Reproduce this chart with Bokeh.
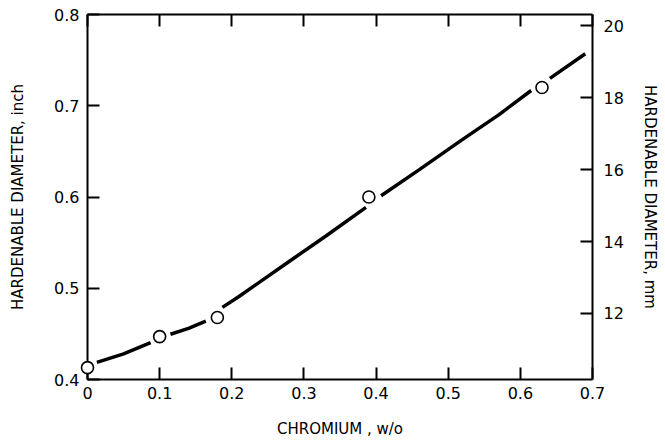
from bokeh.plotting import figure
from bokeh.models import LinearAxis, Range1d, FixedTicker
from bokeh.embed import file_html
from bokeh.resources import INLINE

nan = float("nan")

# measured points
chromium = [0.0, 0.10, 0.18, 0.39, 0.63]
diameter_in = [0.413, 0.447, 0.468, 0.600, 0.720]

# fitted curve (the drawn curve is broken at each circle)
curve_x = [0.013, 0.05, 0.0875, nan,
           0.115, 0.14, 0.164, nan,
           0.187, 0.21, 0.23, 0.277, 0.33, 0.386, nan,
           0.407, 0.46, 0.518, 0.57, 0.615, nan,
           0.641, 0.69]
curve_y = [0.4188, 0.428, 0.4404, nan,
           0.4496, 0.456, 0.464, nan,
           0.479, 0.491, 0.502, 0.528, 0.557, 0.5886, nan,
           0.6014, 0.630, 0.662, 0.690, 0.7167, nan,
           0.730, 0.757]

x_ticks = [0.0, 0.1, 0.2, 0.3, 0.4, 0.5, 0.6, 0.7]
x_labels = ["0", "0.1", "0.2", "0.3", "0.4", "0.5", "0.6", "0.7"]
y_ticks = [0.4, 0.5, 0.6, 0.7, 0.8]
y_labels = ["0.4", "0.5", "0.6", "0.7", "0.8"]
mm_ticks = [12, 14, 16, 18, 20]
mm_labels = ["12", "14", "16", "18", "20"]

FONT = "DejaVu Sans"

p = figure(width=665, height=440, output_backend="svg", toolbar_location=None,
           x_range=Range1d(0, 0.7), y_range=Range1d(0.4, 0.8),
           x_axis_location=None, y_axis_location=None,
           min_border_left=87, min_border_right=73, min_border_top=14,
           min_border_bottom=61)
p.outline_line_color = None
p.xgrid.visible = False
p.ygrid.visible = False
p.background_fill_color = "white"
p.border_fill_color = "white"

p.extra_y_ranges = {"mm": Range1d(0.4 * 25.4, 0.8 * 25.4)}


def style(ax, ticks, labels, show_labels=True):
    ax.ticker = FixedTicker(ticks=ticks)
    ax.major_label_overrides = {t: l for t, l in zip(ticks, labels)}
    ax.minor_tick_line_color = None
    ax.major_tick_in = 12
    ax.major_tick_out = 0
    ax.major_tick_line_width = 2
    ax.major_tick_line_color = "black"
    ax.axis_line_width = 2
    ax.axis_line_color = "black"
    ax.major_label_text_font = FONT
    ax.major_label_text_font_size = "16px" if show_labels else "0px"
    ax.major_label_text_color = "black"
    ax.major_label_standoff = 7
    ax.axis_label_text_font = FONT
    ax.axis_label_text_font_size = "15px"
    ax.axis_label_text_font_style = "normal"
    ax.axis_label_text_color = "black"


bottom = LinearAxis(axis_label="CHROMIUM , w/o")
style(bottom, x_ticks, x_labels)
bottom.axis_label_standoff = 18
p.add_layout(bottom, "below")

top = LinearAxis()
style(top, x_ticks, ["" for _ in x_labels], show_labels=False)
p.add_layout(top, "above")

left = LinearAxis(axis_label="HARDENABLE DIAMETER, inch")
style(left, y_ticks, y_labels)
left.major_label_standoff = 8
left.axis_label_standoff = 24
p.add_layout(left, "left")

right = LinearAxis(y_range_name="mm", axis_label="HARDENABLE DIAMETER, mm")
style(right, mm_ticks, mm_labels)
right.major_label_standoff = 11
right.axis_label_standoff = 14
p.add_layout(right, "right")

# curve (broken around the circles)
p.line(curve_x, curve_y, line_color="black", line_width=3.5)
# open circles, drawn above the frame
p.scatter(chromium, diameter_in, marker="circle", size=12,
          fill_color="white", line_color="black", line_width=1.6,
          level="overlay")

open("out.html", "w").write(file_html(p, INLINE))
